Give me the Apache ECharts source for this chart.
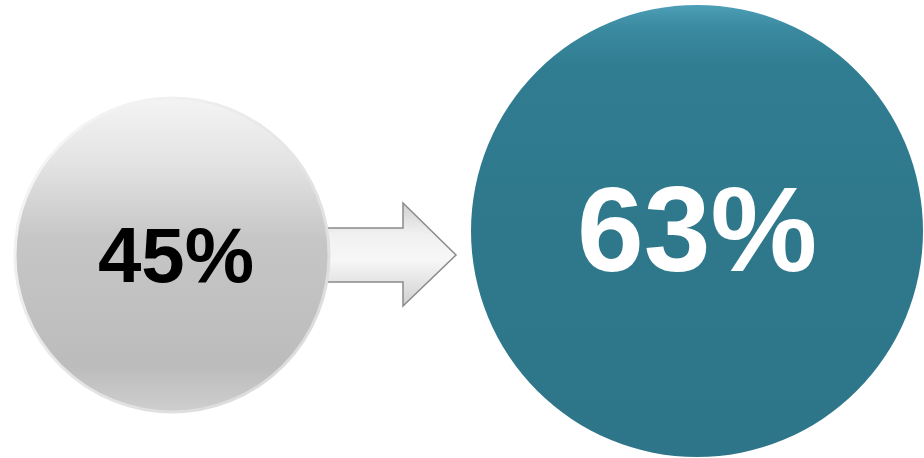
<!DOCTYPE html>
<html>
<head>
<meta charset="utf-8">
<script src="https://cdn.jsdelivr.net/npm/echarts@6/dist/echarts.min.js"></script>
<style>html,body{margin:0;padding:0;background:#fff}#c{width:924px;height:458px}</style>
</head>
<body>
<div id="c"></div>
<script>
var categories = ['Before', 'After'];
var values = [45, 63];

var chart = echarts.init(document.getElementById('c'));

var styles = [
  {
    size: 314, offset: [0, 26],
    color: new echarts.graphic.LinearGradient(0, 0, 0, 1, [
      {offset: 0, color: '#f4f4f4'},
      {offset: 0.2, color: '#e4e4e4'},
      {offset: 0.45, color: '#c6c6c6'},
      {offset: 0.85, color: '#bcbcbc'},
      {offset: 1, color: '#cfcfcf'}
    ]),
    border: new echarts.graphic.LinearGradient(0, 0, 1, 1, [
      {offset: 0, color: '#fafafa'},
      {offset: 0.5, color: '#e6e6e6'},
      {offset: 1, color: '#d8d8d8'}
    ]),
    bw: 3,
    text: '#000', font: 78, lo: [4, 5]
  },
  {
    size: 452, offset: [0, 2],
    color: new echarts.graphic.LinearGradient(0, 0, 0, 1, [
      {offset: 0, color: '#4d9fb7'},
      {offset: 0.05, color: '#3a8aa0'},
      {offset: 0.14, color: '#307c90'},
      {offset: 0.5, color: '#2f788c'},
      {offset: 1, color: '#2e7589'}
    ]),
    border: '#2f788c',
    bw: 0,
    text: '#fff', font: 120, lo: [0, 7]
  }
];

var data = categories.map(function (c, i) {
  var s = styles[i];
  return {
    name: c,
    value: [c, 0],
    pct: values[i],
    symbolSize: s.size,
    symbolOffset: s.offset,
    itemStyle: {color: s.color, borderColor: s.border, borderWidth: s.bw, opacity: 1},
    label: {color: s.text, fontSize: s.font, offset: s.lo, opacity: 1}
  };
});

chart.setOption({
  animation: false,
  grid: {left: 172, right: 227, top: 0, bottom: 0},
  xAxis: {type: 'category', data: categories, boundaryGap: false, show: false},
  yAxis: {type: 'value', min: -1, max: 1, show: false},
  graphic: [{
    type: 'polygon',
    z: 1,
    shape: {points: [[325, 228], [403, 228], [403, 203], [456, 255], [403, 306], [403, 282], [325, 282]]},
    style: {
      fill: new echarts.graphic.LinearGradient(0, 0, 0, 1, [
        {offset: 0, color: '#d0d0d0'},
        {offset: 0.3, color: '#f0f0f0'},
        {offset: 0.55, color: '#f7f7f7'},
        {offset: 1, color: '#cfcfcf'}
      ]),
      stroke: '#8a8a8a',
      lineWidth: 1.5
    }
  }],
  series: [{
    type: 'scatter',
    symbol: 'circle',
    z: 3,
    itemStyle: {opacity: 1},
    data: data,
    label: {
      show: true,
      position: 'inside',
      fontFamily: 'Liberation Sans, Arial, sans-serif',
      fontWeight: 'bold',
      formatter: function (p) { return p.data.pct + '%'; }
    },
    emphasis: {disabled: true}
  }]
});
</script>
</body>
</html>
